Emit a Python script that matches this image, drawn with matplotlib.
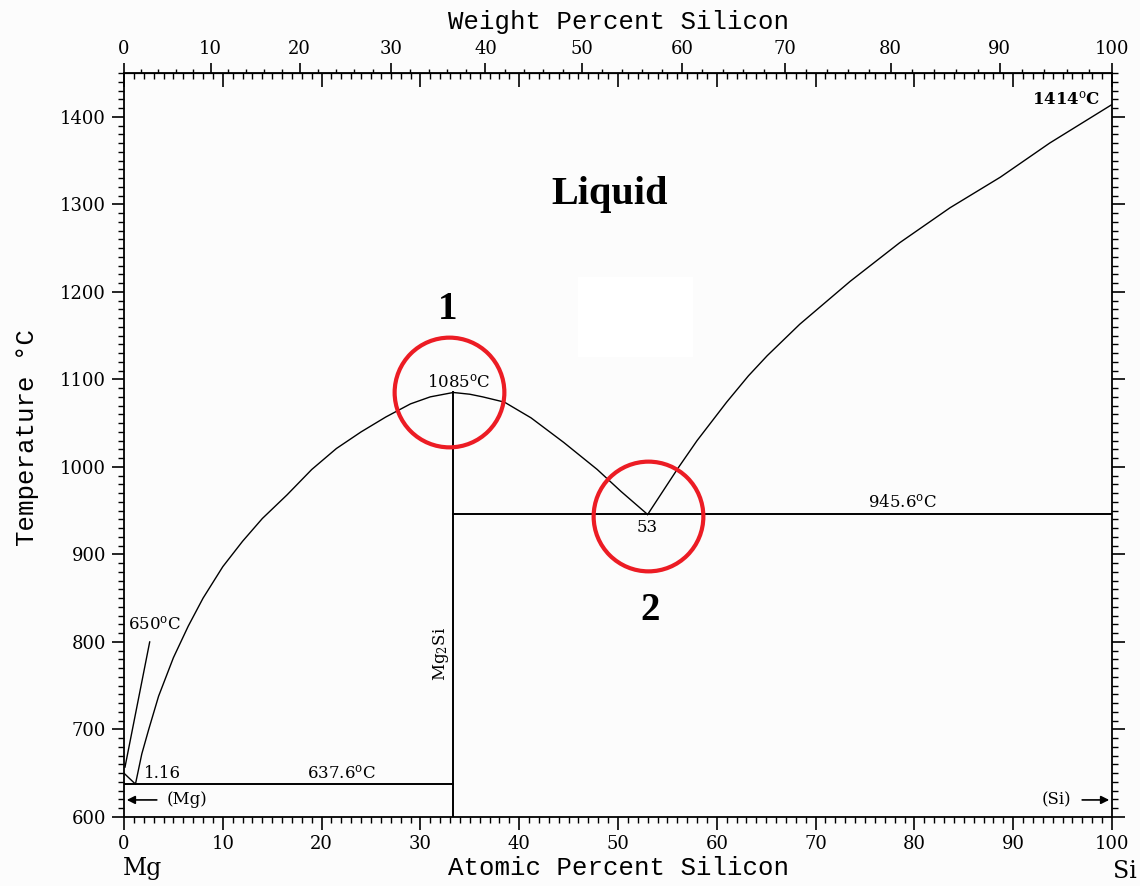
import numpy as np
import matplotlib
matplotlib.use('Agg')
import matplotlib.pyplot as plt
from matplotlib.ticker import MultipleLocator
from matplotlib.patches import Rectangle

plt.rcParams['mathtext.fontset'] = 'dejavuserif'

# atomic masses for the wt% <-> at% top axis
M_MG = 24.305
M_SI = 28.0855

# liquidus branches (at% Si, deg C)
mg_side_x = [1.16, 1.8, 2.5, 3.5, 5.0, 6.5, 8.0, 10.0, 12.0, 14.0, 16.5, 19.0,
             21.5, 24.0, 26.5, 29.0, 31.0, 33.33]
mg_side_t = [637.6, 672, 700, 738, 782, 818, 850, 886, 915, 941, 968, 997,
             1021, 1040, 1057, 1072, 1080, 1085]
dome_x = [33.33, 35.0, 36.3, 38.5, 41.2, 44.5, 47.9, 50.3, 53.0]
dome_t = [1085, 1083, 1080, 1074, 1056, 1028, 997, 972, 945.6]
si_side_x = [53.0, 56.1, 58.0, 61.0, 63.2, 65.1, 68.4, 73.5, 78.5, 83.6, 88.7, 93.7, 100.0]
si_side_t = [945.6, 999, 1030, 1074, 1104, 1127, 1163, 1212, 1256, 1296, 1331, 1370, 1414]

# invariant points
mg_melt = 650.0
si_melt = 1414.0
eut1_x, eut1_t = 1.16, 637.6
eut2_x, eut2_t = 53.0, 945.6
comp_x, comp_t = 33.33, 1085.0

# highlighted spots
circle_x = [32.9, 53.0]
circle_t = [1085, 944]
circle_tags = ['1', '2']
tag_x = [32.8, 53.2]
tag_t = [1180, 836]


def at_to_wt(a):
    a = np.asarray(a, dtype=float)
    return 100 * a * M_SI / (a * M_SI + (100 - a) * M_MG)


def wt_to_at(w):
    w = np.asarray(w, dtype=float)
    return 100 * (w / M_SI) / (w / M_SI + (100 - w) / M_MG)


fig = plt.figure(figsize=(11.4, 8.86), dpi=100, facecolor='#fcfcfc')
ax = fig.add_axes([124/1140, 1-817/886, 988/1140, 744/886])
ax.set_facecolor('#fcfcfc')
ax.set_xlim(0, 100)
ax.set_ylim(600, 1450)

lw = 1.0
ax.plot(mg_side_x, mg_side_t, color='k', lw=lw)
ax.plot(dome_x, dome_t, color='k', lw=lw)
ax.plot(si_side_x, si_side_t, color='k', lw=lw)
ax.plot([0, eut1_x], [mg_melt, eut1_t], color='k', lw=lw)
# eutectic horizontals and compound line
ax.plot([0, comp_x], [eut1_t, eut1_t], color='k', lw=1.4)
ax.plot([comp_x, 100], [eut2_t, eut2_t], color='k', lw=1.4)
ax.plot([comp_x, comp_x], [600, comp_t], color='k', lw=1.4)
# leader for 650 label
ax.plot([0.1, 2.6], [657, 800], color='k', lw=lw)

# white patch (erased area)
ax.add_patch(Rectangle((46.0, 1126), 11.6, 91, facecolor='white', edgecolor='none', zorder=0.5))

lab = dict(family='DejaVu Serif', fontsize=12, color='k')
ax.text(0.4, 820, r'650$^\mathrm{o}$C', ha='left', va='center', **lab)
ax.text(2.0, 650, '1.16', ha='left', va='center', **lab)
ax.text(22.0, 650, r'637.6$^\mathrm{o}$C', ha='center', va='center', **lab)
ax.text(33.9, 1096, r'1085$^\mathrm{o}$C', ha='center', va='center', **lab)
ax.text(53.0, 931, '53', ha='center', va='center', **lab)
ax.text(78.8, 959, r'945.6$^\mathrm{o}$C', ha='center', va='center', **lab)
ax.text(98.8, 1420, r'1414$^\mathrm{o}$C', ha='right', va='center',
        family='DejaVu Serif', fontsize=12, fontweight='bold')
ax.text(33.1, 786, r'Mg$_2$Si', rotation=90, ha='right', va='center', **lab)
ax.text(4.3, 619.5, '(Mg)', ha='left', va='center', **lab)
ax.text(95.9, 619.5, '(Si)', ha='right', va='center', **lab)
ax.annotate('', xy=(0, 619.5), xytext=(3.6, 619.5),
            arrowprops=dict(arrowstyle='-|>', color='k', lw=1.2, mutation_scale=12))
ax.annotate('', xy=(100, 619.5), xytext=(96.7, 619.5),
            arrowprops=dict(arrowstyle='-|>', color='k', lw=1.2, mutation_scale=12))

ax.text(49.2, 1311, 'Liquid', ha='center', va='center', family='Liberation Serif',
        fontsize=29, fontweight='bold')
for cx, ct, tag, tx, tt in zip(circle_x, circle_t, circle_tags, tag_x, tag_t):
    ax.plot(cx, ct, 'o', ms=79, mfc='none', mec='#ec1c24', mew=3.0, zorder=5)
    ax.text(tx, tt, tag, ha='center', va='center', family='Liberation Serif',
            fontsize=28, fontweight='bold')

# ticks
ax.xaxis.set_major_locator(MultipleLocator(10))
ax.xaxis.set_minor_locator(MultipleLocator(1))
ax.yaxis.set_major_locator(MultipleLocator(100))
ax.yaxis.set_minor_locator(MultipleLocator(10))
ax.tick_params(axis='both', which='major', direction='out', length=9, width=1.2, pad=4)
ax.tick_params(axis='both', which='minor', direction='out', length=4, width=1.0)
ax.tick_params(axis='y', which='both', right=True)
for t in ax.get_xticklabels() + ax.get_yticklabels():
    t.set_fontfamily('DejaVu Serif')
    t.set_fontsize(13)
for s in ax.spines.values():
    s.set_linewidth(1.3)

# at% ticks mirrored inward on top
top_at = ax.secondary_xaxis('top')
top_at.xaxis.set_major_locator(MultipleLocator(10))
top_at.xaxis.set_minor_locator(MultipleLocator(1))
top_at.tick_params(which='major', direction='in', length=10, width=1.2, labeltop=False)
top_at.tick_params(which='minor', direction='in', length=4, width=1.0)

top_wt = ax.secondary_xaxis('top', functions=(at_to_wt, wt_to_at))
top_wt.set_xticks(np.arange(0, 101, 10))
top_wt.xaxis.set_minor_locator(MultipleLocator(2))
top_wt.tick_params(which='major', direction='out', length=7, width=1.2, pad=4)
top_wt.tick_params(which='minor', direction='out', length=3, width=1.0)
for t in top_wt.get_xticklabels():
    t.set_fontfamily('DejaVu Serif')
    t.set_fontsize(13)

mono = dict(family='Liberation Mono', fontsize=18.5, color='k')
fig.text(618/1140, 1-868/886, 'Atomic Percent Silicon', ha='center', va='center', **mono)
fig.text(618/1140, 1-22/886, 'Weight Percent Silicon', ha='center', va='center', **mono)
fig.text(27/1140, 1-438/886, 'Temperature \u00b0C', ha='center', va='center', rotation=90, **mono)
fig.text(143/1140, 1-868/886, 'Mg', ha='center', va='center', family='DejaVu Serif', fontsize=17)
fig.text(1125/1140, 1-872/886, 'Si', ha='center', va='center', family='DejaVu Serif', fontsize=17)

fig.savefig('out.png', dpi=100, facecolor=fig.get_facecolor())
